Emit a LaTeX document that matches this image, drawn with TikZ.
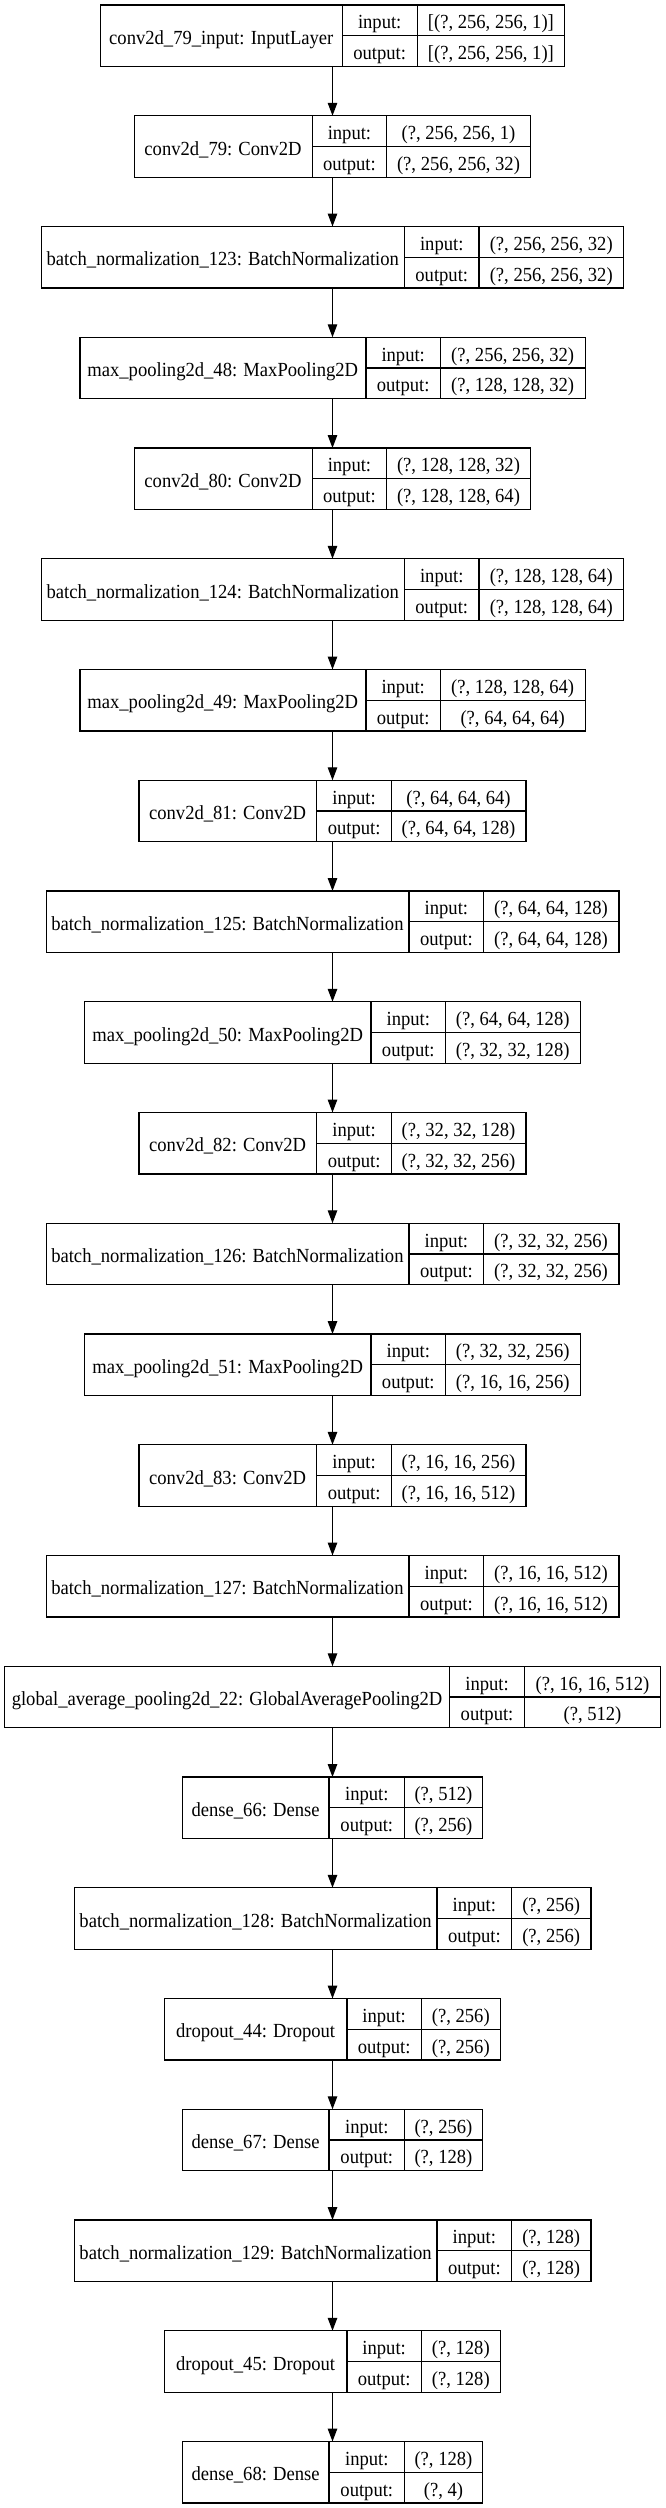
\documentclass[tikz,border=0pt]{standalone}
\usepackage{fontspec}
\setmainfont{Liberation Serif}
\newfontfamily\kfont[FakeStretch=0.93]{Liberation Serif}
\usetikzlibrary{arrows.meta}
\tikzset{
  kbox/.style={draw=black, line width=1.3pt, rectangle, inner sep=0pt, outer sep=0pt, fill=white},
  kline/.style={draw=black, line width=1.3pt},
  ktext/.style={inner sep=0pt, anchor=base, font=\kfont\fontsize{20}{24}\selectfont},
  karrow/.style={draw=black, line width=1.3pt, -{Triangle[length=13pt, width=9.5pt]}}
}
\newcommand{\klayer}[9]{%
  \pgfmathsetmacro{\kt}{5+110.75*(#2-1)}%
  \pgfmathsetmacro{\kb}{\kt+61.5}%
  \pgfmathsetmacro{\km}{\kt+30.75}%
  \pgfmathsetmacro{\kmb}{\kt+30.75+8.5}%
  \pgfmathsetmacro{\kqa}{\kt+15.4+8.5}%
  \pgfmathsetmacro{\kqb}{\kt+46.1+8.5}%
  \pgfmathsetmacro{\kw}{#6-#3}%
  \node[kbox, minimum width=\kw pt, minimum height=61.5pt] (#1) at (332.5,\km) {};
  \draw[kline] (#4,\kt) -- (#4,\kb);
  \draw[kline] (#5,\kt) -- (#5,\kb);
  \draw[kline] (#4,\km) -- (#6,\km);
  \node[ktext] (#1t) at ({(#3+#4)/2},\kmb) {#7};
  \node[ktext] (#1i) at ({(#4+#5)/2},\kqa) {input:};
  \node[ktext] (#1o) at ({(#4+#5)/2},\kqb) {output:};
  \node[ktext] (#1a) at ({(#5+#6)/2},\kqa) {#8};
  \node[ktext] (#1b) at ({(#5+#6)/2},\kqb) {#9};
}
\begin{document}
\begin{tikzpicture}[x=1pt,y=-1pt]
\fill[white] (0,0) rectangle (665,2508);
\useasboundingbox (0,0) rectangle (665,2508);
\klayer{n1}{1}{100.4}{342.2}{417.2}{564.6}{conv2d\_79\_input: InputLayer}{[(?, 256, 256, 1)]}{[(?, 256, 256, 1)]}
\klayer{n2}{2}{133.8}{312.2}{386.7}{530.3}{conv2d\_79: Conv2D}{(?, 256, 256, 1)}{(?, 256, 256, 32)}
\klayer{n3}{3}{41.1}{404.5}{479.0}{623.5}{batch\_normalization\_123: BatchNormalization}{(?, 256, 256, 32)}{(?, 256, 256, 32)}
\klayer{n4}{4}{79.6}{365.9}{440.5}{584.9}{max\_pooling2d\_48: MaxPooling2D}{(?, 256, 256, 32)}{(?, 128, 128, 32)}
\klayer{n5}{5}{133.8}{312.2}{386.7}{530.3}{conv2d\_80: Conv2D}{(?, 128, 128, 32)}{(?, 128, 128, 64)}
\klayer{n6}{6}{41.1}{404.5}{479.0}{623.5}{batch\_normalization\_124: BatchNormalization}{(?, 128, 128, 64)}{(?, 128, 128, 64)}
\klayer{n7}{7}{79.6}{365.9}{440.5}{584.9}{max\_pooling2d\_49: MaxPooling2D}{(?, 128, 128, 64)}{(?, 64, 64, 64)}
\klayer{n8}{8}{138.5}{316.8}{391.4}{525.6}{conv2d\_81: Conv2D}{(?, 64, 64, 64)}{(?, 64, 64, 128)}
\klayer{n9}{9}{45.7}{409.1}{483.7}{618.4}{batch\_normalization\_125: BatchNormalization}{(?, 64, 64, 128)}{(?, 64, 64, 128)}
\klayer{n10}{10}{84.3}{371.0}{445.6}{579.8}{max\_pooling2d\_50: MaxPooling2D}{(?, 64, 64, 128)}{(?, 32, 32, 128)}
\klayer{n11}{11}{138.5}{316.8}{391.4}{525.6}{conv2d\_82: Conv2D}{(?, 32, 32, 128)}{(?, 32, 32, 256)}
\klayer{n12}{12}{45.7}{409.1}{483.7}{618.4}{batch\_normalization\_126: BatchNormalization}{(?, 32, 32, 256)}{(?, 32, 32, 256)}
\klayer{n13}{13}{84.3}{371.0}{445.6}{579.8}{max\_pooling2d\_51: MaxPooling2D}{(?, 32, 32, 256)}{(?, 16, 16, 256)}
\klayer{n14}{14}{138.5}{316.8}{391.4}{525.6}{conv2d\_83: Conv2D}{(?, 16, 16, 256)}{(?, 16, 16, 512)}
\klayer{n15}{15}{45.7}{409.1}{483.7}{618.4}{batch\_normalization\_127: BatchNormalization}{(?, 16, 16, 512)}{(?, 16, 16, 512)}
\klayer{n16}{16}{4.2}{449.8}{524.3}{660.7}{global\_average\_pooling2d\_22: GlobalAveragePooling2D}{(?, 16, 16, 512)}{(?, 512)}
\klayer{n17}{17}{182.1}{329.1}{404.5}{482.4}{dense\_66: Dense}{(?, 512)}{(?, 256)}
\klayer{n18}{18}{74.1}{437.1}{511.6}{590.8}{batch\_normalization\_128: BatchNormalization}{(?, 256)}{(?, 256)}
\klayer{n19}{19}{164.3}{346.9}{421.4}{500.2}{dropout\_44: Dropout}{(?, 256)}{(?, 256)}
\klayer{n20}{20}{182.1}{329.1}{404.5}{482.4}{dense\_67: Dense}{(?, 256)}{(?, 128)}
\klayer{n21}{21}{74.1}{437.1}{511.6}{590.8}{batch\_normalization\_129: BatchNormalization}{(?, 128)}{(?, 128)}
\klayer{n22}{22}{164.3}{346.9}{421.4}{500.2}{dropout\_45: Dropout}{(?, 128)}{(?, 128)}
\klayer{n23}{23}{182.1}{329.1}{404.5}{482.4}{dense\_68: Dense}{(?, 128)}{(?, 4)}
\foreach \a/\b in {n1/n2,n2/n3,n3/n4,n4/n5,n5/n6,n6/n7,n7/n8,n8/n9,n9/n10,n10/n11,n11/n12,n12/n13,n13/n14,n14/n15,n15/n16,n16/n17,n17/n18,n18/n19,n19/n20,n20/n21,n21/n22,n22/n23}
  \draw[karrow] (\a.south) -- (\b.north);
\end{tikzpicture}
\end{document}
